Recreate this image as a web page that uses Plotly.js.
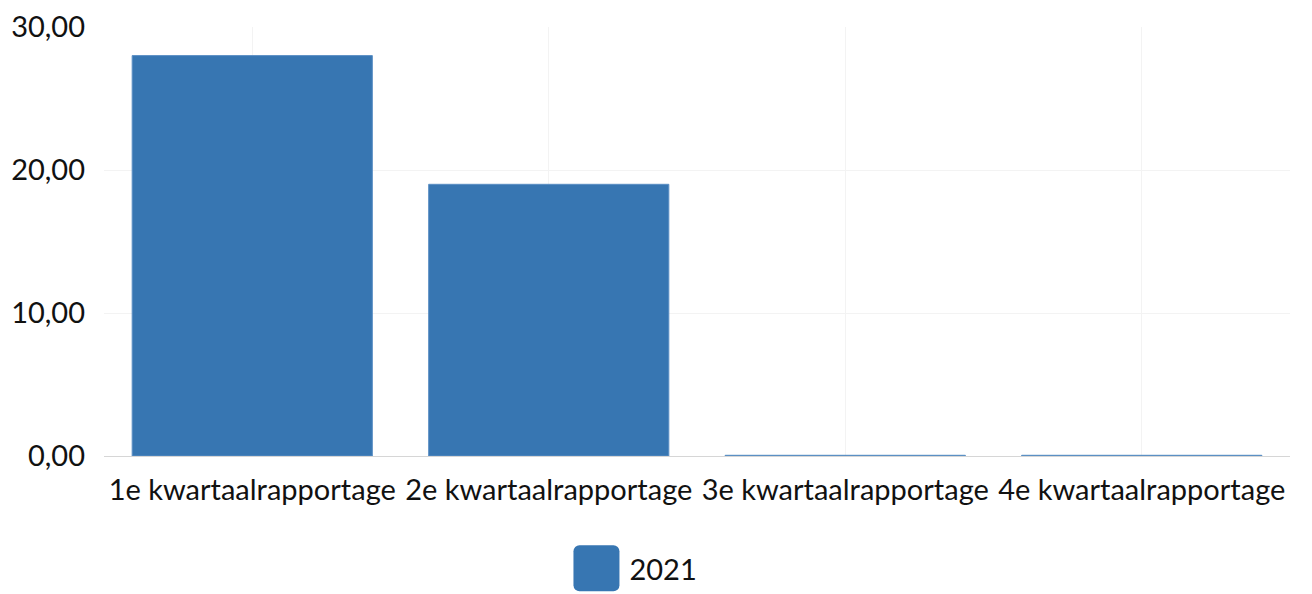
<!DOCTYPE html>
<html>
<head>
<meta charset="utf-8">
<script src="https://cdn.plot.ly/plotly-3.0.1.min.js"></script>
<style>html,body{margin:0;padding:0;background:#fff;}#chart{width:1312px;height:594px;}</style>
</head>
<body>
<div id="chart"></div>
<script>
const categories = ["1e kwartaalrapportage", "2e kwartaalrapportage", "3e kwartaalrapportage", "4e kwartaalrapportage"];
const seriesName = "2021";
const values2021 = [28, 19, 0.05, 0.05];
const yTicks = [0, 10, 20, 30];
const yTickLabels = ["0,00", "10,00", "20,00", "30,00"];

const barColor = "#3776b2";

const data = [{
  type: "bar",
  name: seriesName,
  x: categories,
  y: values2021,
  marker: {color: barColor, line: {color: "#5b8fc4", width: 1}},
  hoverinfo: "none"
}];

const layout = {
  width: 1312, height: 594,
  margin: {l: 104, r: 22, t: 27, b: 138},
  paper_bgcolor: "#fff", plot_bgcolor: "#fff",
  font: {family: "Lato, sans-serif", size: 29, color: "#111"},
  bargap: 0.19,
  showlegend: true,
  legend: {orientation: "h", x: 0.446, xanchor: "center", xref: "paper", yref: "container", y: -0.008, yanchor: "bottom",
           font: {family: "Lato, sans-serif", size: 29, color: "#111"}, itemwidth: 56},
  xaxis: {showgrid: true, gridcolor: "#f3f3f3", tickfont: {size: 29}, ticks: "", tickangle: 0,
          ticklabelstandoff: 14, zeroline: false, showline: false, automargin: false},
  yaxis: {range: [0, 30], tickvals: yTicks, ticktext: yTickLabels, showgrid: true, gridcolor: "#f3f3f3",
          zeroline: true, zerolinecolor: "#d6d6d6", zerolinewidth: 1, ticks: "", ticklen: 0,
          ticklabelstandoff: 18, tickfont: {size: 29}, automargin: false}
};

Plotly.newPlot("chart", data, layout, {displayModeBar: false, staticPlot: true}).then(function(gd){
  document.querySelectorAll(".legendpoints path").forEach(function(p){
    p.setAttribute("d", "M-17,-23H17A6,6 0 0 1 23,-17V17A6,6 0 0 1 17,23H-17A6,6 0 0 1 -23,17V-17A6,6 0 0 1 -17,-23Z");
    p.style.strokeWidth = "0";
  });
});
</script>
</body>
</html>
